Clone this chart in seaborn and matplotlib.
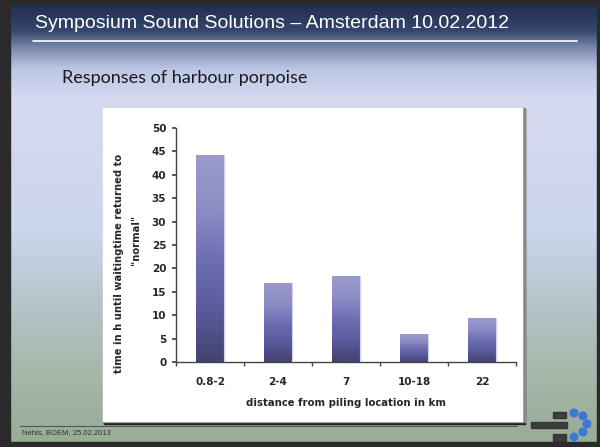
import numpy as np
import pandas as pd
import seaborn as sns
import matplotlib.pyplot as plt
from matplotlib.colors import LinearSegmentedColormap, to_rgb
from matplotlib.patches import Rectangle, Circle
from matplotlib.lines import Line2D

# data
distances = ["0.8-2", "2-4", "7", "10-18", "22"]
hours = [44.2, 16.8, 18.4, 5.9, 9.5]
y_ticks = [0, 5, 10, 15, 20, 25, 30, 35, 40, 45, 50]

df = pd.DataFrame({"distance": distances, "hours": hours})

sns.set_theme(style="white")
plt.rcParams["font.family"] = ["Liberation Sans", "DejaVu Sans"]

W, H = 600, 447
fig = plt.figure(figsize=(6, 4.47), dpi=100)

# slide background gradient (top navy -> lavender -> grey green)
bg = fig.add_axes([0, 0, 1, 1], zorder=-10)
stops = [(0, "#1d2b4b"), (30, "#34466c"), (48, "#7d8bb0"), (68, "#bcc6e4"),
         (100, "#d4daf0"), (230, "#ccd5ee"), (300, "#b6c5cc"), (370, "#a5b8aa"),
         (447, "#97ab95")]
ys = np.arange(H)
cols = np.array([to_rgb(c) for _, c in stops])
grad = np.stack([np.interp(ys, [p for p, _ in stops], cols[:, k]) for k in range(3)], axis=1)
bg.imshow(np.repeat(grad[:, None, :], 4, axis=1), aspect="auto", extent=[0, W, H, 0])
bg.set_xlim(0, W)
bg.set_ylim(H, 0)
bg.axis("off")

# dark slide frame
bg.add_patch(Rectangle((0, 0), 10, H, color="#2a2a2a"))
bg.add_patch(Rectangle((0, 0), W, 4, color="#2a2a2a"))
bg.add_patch(Rectangle((0, 442), W, 5, color="#2a2a2a"))
bg.add_patch(Rectangle((597, 0), 3, H, color="#2a2a2a"))

# headline + underline
bg.text(35, 24, "Symposium Sound Solutions \u2013 Amsterdam 10.02.2012", color="white",
        fontsize=14, va="center", ha="left")
bg.add_line(Line2D([33, 577], [41, 41], color="white", lw=1.2))
bg.text(62, 78, "Responses of harbour porpoise", color="#1a1a1a",
        fontsize=13, va="center", ha="left", family=["Lato", "DejaVu Sans"])

# footer line, then chart panel with shadow
bg.add_line(Line2D([20, 517], [426, 426], color="#555555", lw=0.8))
bg.add_patch(Rectangle((104, 109), 421, 315, color="#222222"))
bg.add_patch(Rectangle((104, 108), 421, 314, color="#8a8a8a"))
bg.add_patch(Rectangle((103, 108), 419, 313, color="white"))

# footer text and logo
bg.text(22, 433, "Nehls, BOEM, 25.02.2013", fontsize=5.5, color="#333333", va="center")
for cx, cy in [(574, 413), (583, 416), (587, 424), (583, 432), (574, 437)]:
    bg.add_patch(Circle((cx, cy), 3.8, color="#3c78d8"))
bg.add_patch(Rectangle((553, 412), 13, 6, color="#2b2b2b", alpha=0.85))
bg.add_patch(Rectangle((531, 422), 36, 6, color="#2b2b2b", alpha=0.85))
bg.add_patch(Rectangle((553, 434), 13, 7, color="#2b2b2b", alpha=0.85))

# bar chart
ax = fig.add_axes([176 / W, 1 - 362 / H, 340 / W, 234 / H])
sns.barplot(data=df, x="distance", y="hours", ax=ax, width=0.41,
            color="#6a6aae", edgecolor="none")
ax.set_facecolor("none")

bar_cmap = LinearSegmentedColormap.from_list("bar", ["#434371", "#5a5a9c", "#6e6eb4", "#8e8ec6", "#9a9acc"])
g = np.linspace(0, 1, 256)[:, None]
for p in ax.patches:
    x0, y0 = p.get_x(), p.get_y()
    w, h = p.get_width(), p.get_height()
    im = ax.imshow(g, cmap=bar_cmap, aspect="auto", origin="lower",
                   extent=[x0, x0 + w, y0, y0 + h], zorder=2)
    im.set_clip_path(p)
    p.set_facecolor("none")
    ax.add_line(Line2D([x0 + w, x0 + w], [0, h], color="#d0d0f2", lw=0.8, zorder=3))

chart_font = ["DejaVu Sans"]
ax.set_xlim(-0.5, 4.5)
ax.set_ylim(0, 50)
ax.set_yticks(y_ticks)
ax.set_yticklabels([str(t) for t in y_ticks], fontsize=7.5, fontweight="bold", family=chart_font)
ax.set_xticks(np.arange(-0.5, 5, 1), minor=True)
ax.set_xticks(range(len(distances)))
ax.set_xticklabels(distances, fontsize=7.5, fontweight="bold", family=chart_font)
ax.tick_params(axis="x", which="major", length=0, pad=11)
ax.tick_params(axis="x", which="minor", length=3, direction="out", color="#444444", bottom=True)
ax.tick_params(axis="y", length=3, direction="out", color="#444444", left=True, pad=4)
for s in ["top", "right"]:
    ax.spines[s].set_visible(False)
for s in ["left", "bottom"]:
    ax.spines[s].set_color("#444444")
    ax.spines[s].set_linewidth(1.0)

ax.set_xlabel("distance from piling location in km", fontsize=7.3, fontweight="bold",
              family=chart_font, labelpad=8)
# y label: two lines, second one sits a bit higher than the first
ax.set_ylabel("time in h until waitingtime returned to", fontsize=7.2,
              fontweight="bold", family=chart_font)
ax.yaxis.set_label_coords(-0.152, 0.423)
ax.text(-0.118, 0.521, '"normal"', transform=ax.transAxes, rotation=90, ha="center",
        va="center", fontsize=7.2, fontweight="bold", family=chart_font)

fig.savefig("out.png", dpi=100)
